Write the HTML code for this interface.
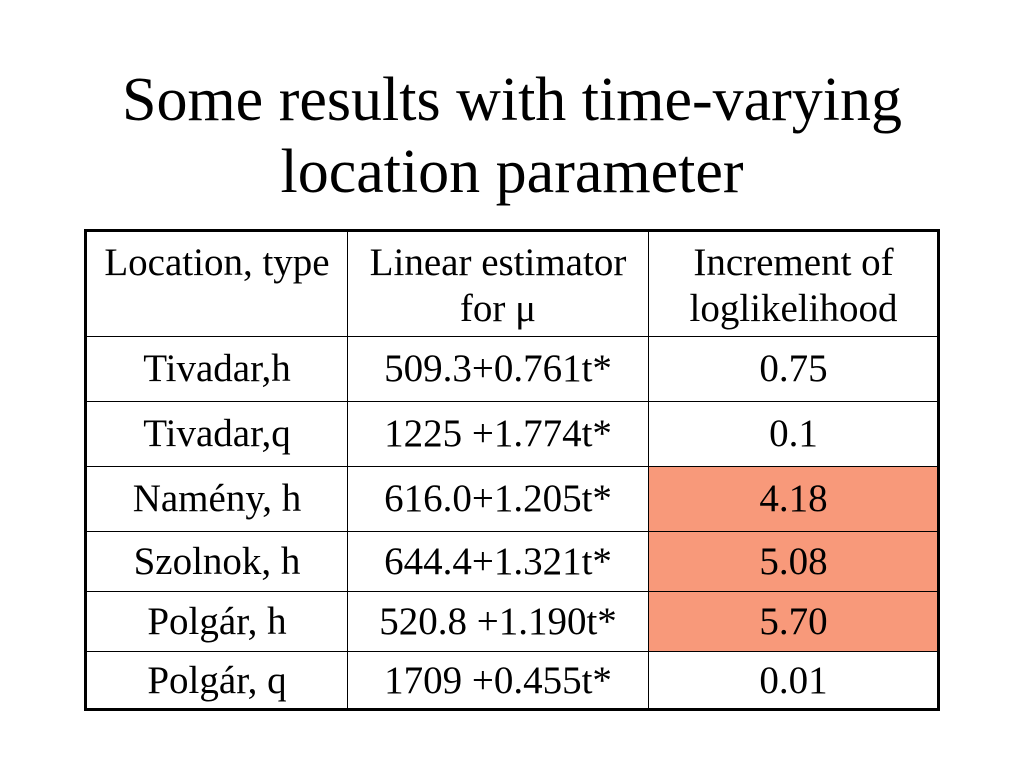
<!DOCTYPE html>
<html><head><meta charset="utf-8"><style>
body{margin:0;width:1024px;height:768px;background:#fff;position:relative;overflow:hidden;font-family:"Liberation Serif",serif;color:#000}
.t{position:absolute;left:0;width:1024px;text-align:center;font-size:62px;line-height:72px;top:64px}
.c{position:absolute;display:flex;align-items:center;justify-content:center;text-align:center;font-size:39px;line-height:46px}
.h{align-items:flex-start;padding-top:8px;box-sizing:border-box}
.hl{position:absolute;left:85px;width:854px;height:1px;background:#000}
.vl{position:absolute;top:231px;height:479px;width:1px;background:#000}
.f{position:absolute;background:#F8997A;left:649px;width:289px}
</style></head><body>
<div class="t">Some results with time-varying<br>location parameter</div>
<div class="f" style="top:467px;height:184px"></div>
<div style="position:absolute;left:84px;top:229px;width:850px;height:476px;border:3px solid #000"></div>
<div class="vl" style="left:347px"></div>
<div class="vl" style="left:648px"></div>
<div class="hl" style="top:336px"></div>
<div class="hl" style="top:401px"></div>
<div class="hl" style="top:466px"></div>
<div class="hl" style="top:531px"></div>
<div class="hl" style="top:591px"></div>
<div class="hl" style="top:651px"></div>

<div class="c h" style="left:87px;width:260px;top:232px;height:104px">Location, type</div>
<div class="c h" style="left:348px;width:300px;top:232px;height:104px">Linear estimator<br>for μ</div>
<div class="c h" style="left:649px;width:289px;top:232px;height:104px">Increment of<br>loglikelihood</div>

<div class="c" style="left:87px;width:260px;top:337px;height:64px">Tivadar,h</div>
<div class="c" style="left:348px;width:300px;top:337px;height:64px">509.3+0.761t*</div>
<div class="c" style="left:649px;width:289px;top:337px;height:64px">0.75</div>

<div class="c" style="left:87px;width:260px;top:402px;height:64px">Tivadar,q</div>
<div class="c" style="left:348px;width:300px;top:402px;height:64px">1225 +1.774t*</div>
<div class="c" style="left:649px;width:289px;top:402px;height:64px">0.1</div>

<div class="c" style="left:87px;width:260px;top:467px;height:64px">Namény, h</div>
<div class="c" style="left:348px;width:300px;top:467px;height:64px">616.0+1.205t*</div>
<div class="c" style="left:649px;width:289px;top:467px;height:64px">4.18</div>

<div class="c" style="left:87px;width:260px;top:532px;height:59px">Szolnok, h</div>
<div class="c" style="left:348px;width:300px;top:532px;height:59px">644.4+1.321t*</div>
<div class="c" style="left:649px;width:289px;top:532px;height:59px">5.08</div>

<div class="c" style="left:87px;width:260px;top:592px;height:59px">Polgár, h</div>
<div class="c" style="left:348px;width:300px;top:592px;height:59px">520.8 +1.190t*</div>
<div class="c" style="left:649px;width:289px;top:592px;height:59px">5.70</div>

<div class="c" style="left:87px;width:260px;top:652px;height:57px">Polgár, q</div>
<div class="c" style="left:348px;width:300px;top:652px;height:57px">1709 +0.455t*</div>
<div class="c" style="left:649px;width:289px;top:652px;height:57px">0.01</div>
</body></html>
